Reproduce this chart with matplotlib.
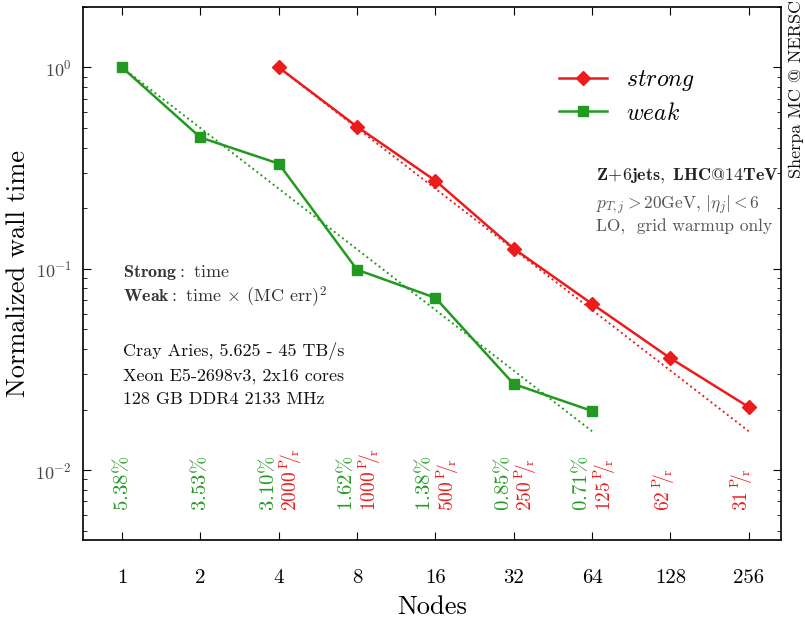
import matplotlib
matplotlib.use("Agg")
import matplotlib.pyplot as plt
from matplotlib.ticker import FixedLocator, FixedFormatter, NullLocator

plt.rcParams["mathtext.fontset"] = "cm"
plt.rcParams["font.family"] = "serif"
plt.rcParams["font.serif"] = ["cmr10", "DejaVu Serif"]
plt.rcParams["axes.formatter.use_mathtext"] = True

# data
strong_nodes = [4, 8, 16, 32, 64, 128, 256]
strong_time = [1.0, 0.508, 0.274, 0.126, 0.067, 0.036, 0.0206]
weak_nodes = [1, 2, 4, 8, 16, 32, 64]
weak_time = [1.0, 0.449, 0.333, 0.099, 0.0718, 0.0268, 0.0197]

node_ticks = [1, 2, 4, 8, 16, 32, 64, 128, 256]
weak_err = ["5.38", "3.53", "3.10", "1.62", "1.38", "0.85", "0.71"]
strong_rate = ["2000", "1000", "500", "250", "125", "62", "31"]

RED = "#ec1c1c"
GREEN = "#229a22"

fig = plt.figure(figsize=(8.05, 6.18), dpi=100)
ax = fig.add_axes([0.103, 0.126, 0.867, 0.863])

ax.plot(strong_nodes, strong_time, color=RED, marker="D", ms=7, lw=1.8, label=r"$strong$")
ax.plot(weak_nodes, weak_time, color=GREEN, marker="s", ms=7, lw=1.8, label=r"$weak$")

# ideal scaling ~ 1/N
ax.plot([strong_nodes[0], strong_nodes[-1]],
        [strong_time[0], strong_time[0] * strong_nodes[0] / strong_nodes[-1]],
        color=RED, ls=":", lw=1.4)
ax.plot([weak_nodes[0], weak_nodes[-1]],
        [weak_time[0], weak_time[0] * weak_nodes[0] / weak_nodes[-1]],
        color=GREEN, ls=":", lw=1.4)

ax.set_xscale("log", base=2)
ax.set_yscale("log")
ax.set_xlim(2 ** -0.5, 256 * 2 ** 0.41)
ax.set_ylim(0.0045, 2.0)
ax.xaxis.set_major_locator(FixedLocator(node_ticks))
ax.xaxis.set_major_formatter(FixedFormatter([str(n) for n in node_ticks]))
ax.xaxis.set_minor_locator(NullLocator())
ax.tick_params(which="both", direction="in", top=True, right=True)
ax.tick_params(axis="x", which="major", length=6, pad=21, labelsize=15)
ax.tick_params(axis="y", which="major", length=6, pad=8, labelsize=13, labelcolor="#444444")
ax.tick_params(which="minor", length=3)
for s in ax.spines.values():
    s.set_linewidth(1.2)

ax.set_xlabel("Nodes", fontsize=19, labelpad=6)
ax.set_ylabel("Normalized wall time", fontsize=19, labelpad=4)

# per-node annotations at the bottom
ybase = 0.0063
for i, err in enumerate(weak_err):
    n = weak_nodes[i]
    dx = -8 if n in strong_nodes else 0
    ax.annotate(err + r"$\%$", xy=(n, ybase), xytext=(dx, 0), textcoords="offset points",
                rotation=90, ha="center", va="bottom", color=GREEN, fontsize=15)
for i, rate in enumerate(strong_rate):
    n = strong_nodes[i]
    dx = 9 if n in weak_nodes else -5
    ax.annotate(rate + r"$\,^{\rm P}\!\!/\!_{\rm r}$", xy=(n, ybase), xytext=(dx, 0),
                textcoords="offset points", rotation=90, ha="center", va="bottom",
                color=RED, fontsize=14)

leg = ax.legend(loc="upper right", bbox_to_anchor=(0.907, 0.925), frameon=False,
                fontsize=17, handlelength=2.0, labelspacing=0.4)

ax.text(0.735, 0.675, r"$\mathbf{Z\!+\!6jets,\ LHC@14TeV}$", transform=ax.transAxes,
        fontsize=13, color="#222222")
ax.text(0.735, 0.62, r"$p_{T,j} > 20\mathrm{GeV},\,|\eta_j| < 6$", transform=ax.transAxes,
        fontsize=12.5, color="#555555")
ax.text(0.735, 0.578, "LO,  grid warmup only", transform=ax.transAxes,
        fontsize=12.5, color="#555555")

ax.text(0.057, 0.494, r"$\mathbf{Strong:}$ time", transform=ax.transAxes,
        fontsize=13, color="#333333")
ax.text(0.057, 0.446, r"$\mathbf{Weak:}$ time $\times$ (MC err)$^2$", transform=ax.transAxes,
        fontsize=13, color="#333333")
ax.text(0.057, 0.346, "Cray Aries, 5.625 - 45 TB/s", transform=ax.transAxes,
        fontsize=13, color="#111111")
ax.text(0.057, 0.299, "Xeon E5-2698v3, 2x16 cores", transform=ax.transAxes,
        fontsize=13, color="#111111")
ax.text(0.057, 0.256, "128 GB DDR4 2133 MHz", transform=ax.transAxes,
        fontsize=13, color="#111111")

fig.text(0.999, 1.0, "Sherpa MC @ NERSC", rotation=90, ha="right", va="top",
         fontsize=13, color="#111111")

fig.savefig("out.png", dpi=100)
